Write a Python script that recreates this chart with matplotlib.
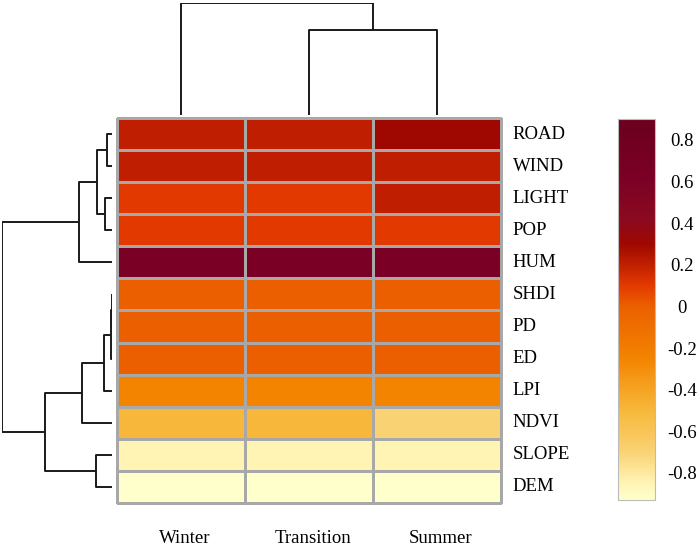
import numpy as np
import matplotlib
matplotlib.use("Agg")
import matplotlib.pyplot as plt
from matplotlib.colors import LinearSegmentedColormap, Normalize
from matplotlib.cm import ScalarMappable

plt.rcParams['font.family'] = ['Liberation Serif', 'DejaVu Serif']

# data
seasons = ["Winter", "Transition", "Summer"]
factors = ["ROAD", "WIND", "LIGHT", "POP", "HUM", "SHDI",
           "PD", "ED", "LPI", "NDVI", "SLOPE", "DEM"]
corr = np.array([
    [0.20, 0.20, 0.30],
    [0.20, 0.20, 0.20],
    [0.10, 0.10, 0.20],
    [0.10, 0.10, 0.10],
    [0.62, 0.62, 0.62],
    [0.00, 0.00, 0.00],
    [0.00, 0.00, 0.00],
    [0.00, 0.00, 0.00],
    [-0.25, -0.25, -0.25],
    [-0.50, -0.50, -0.70],
    [-0.85, -0.85, -0.85],
    [-0.93, -0.93, -0.93],
])
# linkage: (cluster a, cluster b, height); new clusters numbered from n
row_links = [(0, 1, 5), (2, 3, 7), (12, 13, 15), (14, 4, 33),
             (5, 6, 0.3), (16, 7, 0.6), (17, 8, 8), (18, 9, 30),
             (10, 11, 16), (19, 20, 67), (15, 21, 110)]
col_links = [(1, 2, 0.755), (0, 3, 1.0)]
cbar_ticks = [0.8, 0.6, 0.4, 0.2, 0, -0.2, -0.4, -0.6, -0.8]

vmin, vmax = -0.93, 0.9
stops = [(-0.93, "#FFFFCC"), (-0.85, "#FFF4B4"), (-0.7, "#F9D273"),
         (-0.5, "#F7B73A"), (-0.25, "#F38400"), (0.0, "#EB6000"),
         (0.1, "#E33A00"), (0.2, "#C02000"), (0.3, "#A00800"),
         (0.42, "#8A0A20"), (0.62, "#7B0025"), (0.9, "#6B001E")]
cmap = LinearSegmentedColormap.from_list(
    "heat", [((v - vmin) / (vmax - vmin), c) for v, c in stops])
norm = Normalize(vmin, vmax)

W, H = 699, 547
FS = 13.5
fig = plt.figure(figsize=(W / 100, H / 100), dpi=100)


def px_axes(left, top, right, bottom):
    return fig.add_axes([left / W, 1 - bottom / H, (right - left) / W, (bottom - top) / H])


def draw_dendro(ax, links, n, orient):
    pos = {i: i + 0.5 for i in range(n)}
    hgt = {i: 0.0 for i in range(n)}
    for k, (a, b, h) in enumerate(links):
        xs = [pos[a], pos[a], pos[b], pos[b]]
        ys = [hgt[a], h, h, hgt[b]]
        if orient == "top":
            ax.plot(xs, ys, color="#1a1a1a", lw=1.4, solid_capstyle="butt")
        else:
            ax.plot(ys, xs, color="#1a1a1a", lw=1.4, solid_capstyle="butt")
        pos[n + k] = (pos[a] + pos[b]) / 2
        hgt[n + k] = h
    ax.axis("off")


# heatmap
ax = px_axes(117, 118, 501, 503)
nr, nc = corr.shape
ax.pcolormesh(np.arange(nc + 1), np.arange(nr + 1), corr, cmap=cmap, norm=norm,
              edgecolors="#A8A8A8", linewidth=1.0, clip_on=False)
ax.set_xlim(0, nc)
ax.set_ylim(nr, 0)
ax.axis("off")
for i, name in enumerate(factors):
    ax.text(nc + 0.09, i + 0.5, name, ha="left", va="center", fontsize=FS)
for j, name in enumerate(seasons):
    ax.text(j + 0.53, nr + 1.12, name, ha="center", va="center", fontsize=FS)

# row dendrogram
axr = px_axes(2, 118, 112, 503)
draw_dendro(axr, row_links, nr, "left")
axr.set_xlim(110, 0)
axr.set_ylim(nr, 0)

# column dendrogram
axc = px_axes(117, 2.5, 501, 115)
draw_dendro(axc, col_links, nc, "top")
axc.set_xlim(0, nc)
axc.set_ylim(0, 1.0)

# colorbar
cax = px_axes(618, 119, 655, 500)
cb = fig.colorbar(ScalarMappable(norm=norm, cmap=cmap), cax=cax, ticks=cbar_ticks)
cb.outline.set_edgecolor("#BBBBBB")
cb.outline.set_linewidth(0.8)
cb.ax.set_yticklabels([f"{t:g}" for t in cbar_ticks])
cb.ax.tick_params(length=0, pad=19.5, labelsize=FS)
for lab in cb.ax.get_yticklabels():
    lab.set_horizontalalignment("center")

fig.savefig("out.png", dpi=100)
